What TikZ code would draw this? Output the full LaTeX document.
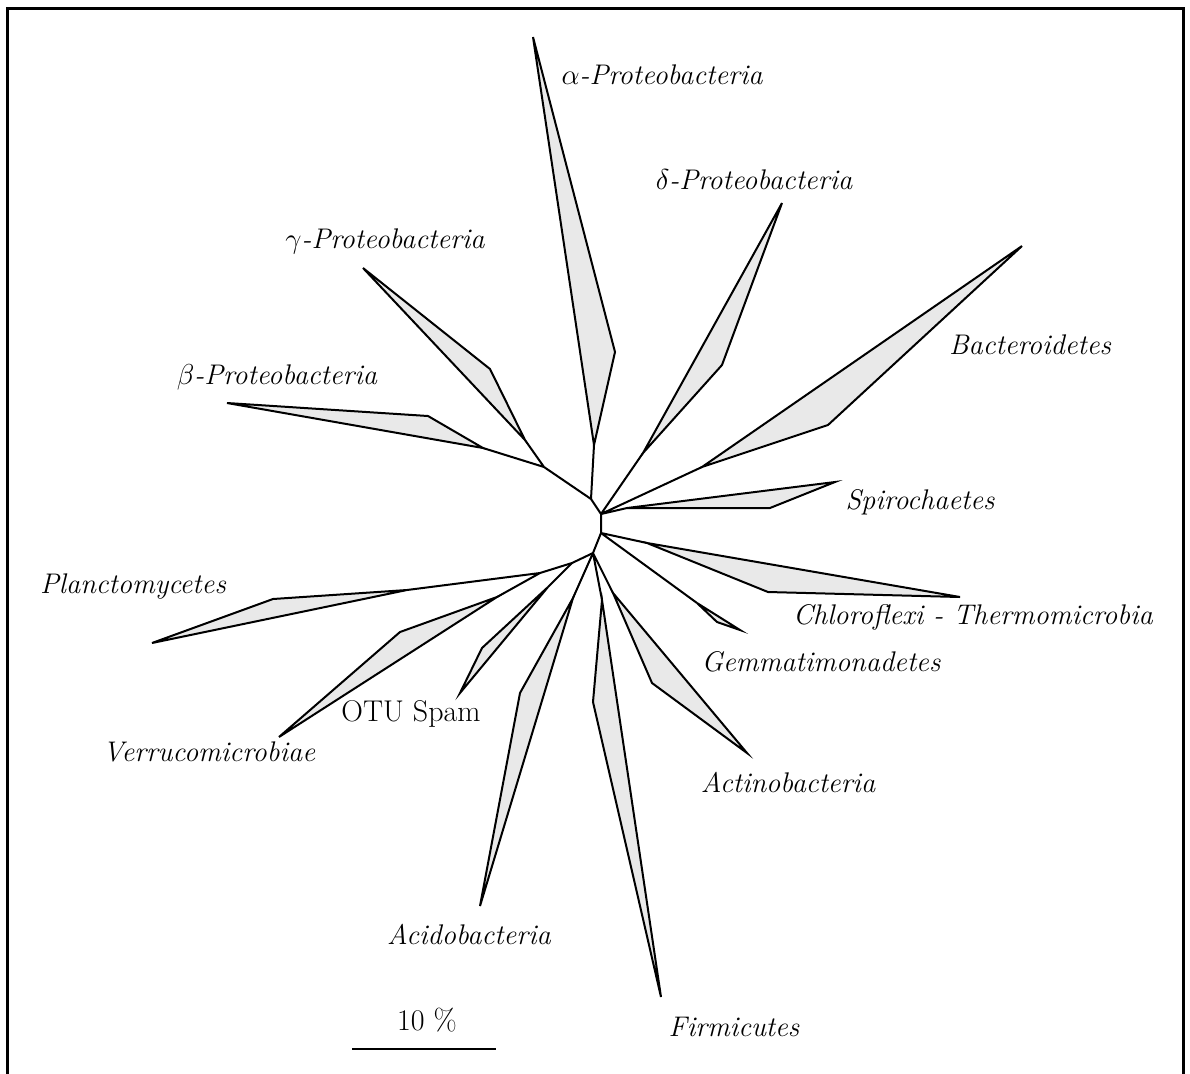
\documentclass[tikz,border=0pt]{standalone}
\usepackage{amsmath}
\usepackage{tikz}
\usetikzlibrary{positioning}
\definecolor{wedgegray}{RGB}{233,233,233}

\begin{document}
\begin{tikzpicture}[x=0.5pt,y=-0.5pt,line width=1pt,
                wedge/.style={draw,fill=wedgegray},
                taxon/.style={font=\fontsize{14.2}{17}\selectfont\itshape},
                plain/.style={font=\fontsize{15}{18}\selectfont}]
                \useasboundingbox (0,0) rectangle (1190,1073);
                \draw[line width=1.5pt] (7,1095) -- (7,8) -- (1183,8) -- (1183,1095);
                % inner nodes of the tree
                \coordinate (n_a) at (591,499);
                \coordinate (n_bg) at (544,467);
                \coordinate (n_r1) at (601,514);
                \coordinate (n_r2) at (601,533);
                \coordinate (n_b) at (593,553);
                \coordinate (n_c) at (572,563);
                \coordinate (n_pv) at (540,573);
                % wedges: joint, bend, tip
                \coordinate (alpha_j) at (594,445); \coordinate (alpha_m) at (615,352); \coordinate (alpha_t) at (533,37);
                \coordinate (delta_j) at (643,453); \coordinate (delta_m) at (722,365); \coordinate (delta_t) at (782,203);
                \coordinate (bact_j) at (702,467); \coordinate (bact_m) at (828,425); \coordinate (bact_t) at (1022,246);
                \coordinate (spiro_j) at (627,508); \coordinate (spiro_m) at (770,508); \coordinate (spiro_t) at (835,482);
                \coordinate (chloro_j) at (647,543); \coordinate (chloro_m) at (768,592); \coordinate (chloro_t) at (960,597);
                \coordinate (gemma_j) at (697,603); \coordinate (gemma_m) at (717,622); \coordinate (gemma_t) at (740,630);
                \coordinate (actino_j) at (613,593); \coordinate (actino_m) at (652,683); \coordinate (actino_t) at (747,753);
                \coordinate (firm_j) at (602,600); \coordinate (firm_m) at (593,702); \coordinate (firm_t) at (661,997);
                \coordinate (acido_j) at (573,598); \coordinate (acido_m) at (520,693); \coordinate (acido_t) at (480,906);
                \coordinate (spam_j) at (548,587); \coordinate (spam_m) at (482,648); \coordinate (spam_t) at (460,693);
                \coordinate (verru_j) at (497,597); \coordinate (verru_m) at (400,632); \coordinate (verru_t) at (279,737);
                \coordinate (plancto_j) at (407,590); \coordinate (plancto_m) at (273,599); \coordinate (plancto_t) at (152,643);
                \coordinate (beta_j) at (483,448); \coordinate (beta_m) at (428,416); \coordinate (beta_t) at (227,403);
                \coordinate (gamma_j) at (525,440); \coordinate (gamma_m) at (490,369); \coordinate (gamma_t) at (363,268);
                % branches
                \draw (n_bg) -- (n_a) -- (n_r1) -- (n_r2) -- (n_b) -- (n_c) -- (n_pv);
                \draw (n_bg) -- (beta_j) (n_bg) -- (gamma_j) (n_a) -- (alpha_j);
                \draw (n_r1) -- (delta_j) (n_r1) -- (bact_j) (n_r1) -- (spiro_j);
                \draw (n_r2) -- (chloro_j) (n_r2) -- (gemma_j);
                \draw (n_b) -- (actino_j) (n_b) -- (firm_j) (n_b) -- (acido_j);
                \draw (n_c) -- (spam_j) (n_pv) -- (verru_j) (n_pv) -- (plancto_j);
                \foreach \w in {alpha,delta,bact,spiro,chloro,gemma,actino,firm,acido,spam,verru,plancto,beta,gamma}
                    \draw[wedge] (\w_j) -- (\w_m) -- (\w_t) -- cycle;
                % labels
                \node[taxon] (alpha_l) at (662,75) {$\alpha$-Proteobacteria};
                \node[taxon] (delta_l) at (754,180) {$\delta$-Proteobacteria};
                \node[taxon] (gamma_l) at (385,241) {$\gamma$-Proteobacteria};
                \node[taxon] (beta_l) at (277,377) {$\beta$-Proteobacteria};
                \node[taxon] (bact_l) at (1030,345) {Bacteroidetes};
                \node[taxon] (spiro_l) at (920,502) {Spirochaetes};
                \node[taxon] (chloro_l) at (973,617) {Chloroflexi - Thermomicrobia};
                \node[taxon] (gemma_l) at (821,662) {Gemmatimonadetes};
                \node[taxon] (actino_l) at (788,782) {Actinobacteria};
                \node[taxon] (firm_l) at (734,1027) {Firmicutes};
                \node[taxon] (acido_l) at (469,934) {Acidobacteria};
                \node[plain] (spam_l) at (411,714) {OTU Spam};
                \node[taxon] (verru_l) at (209,752) {Verrucomicrobiae};
                \node[taxon] (plancto_l) at (133,587) {Planctomycetes};
                % scale bar
                \node[plain] (bar_l) at (427,1020) {10 \%};
                \coordinate (bar_a) at (352,1049);
                \coordinate (bar_b) at (496,1049);
                \draw (bar_a) -- (bar_b);
            \end{tikzpicture}
\end{document}
